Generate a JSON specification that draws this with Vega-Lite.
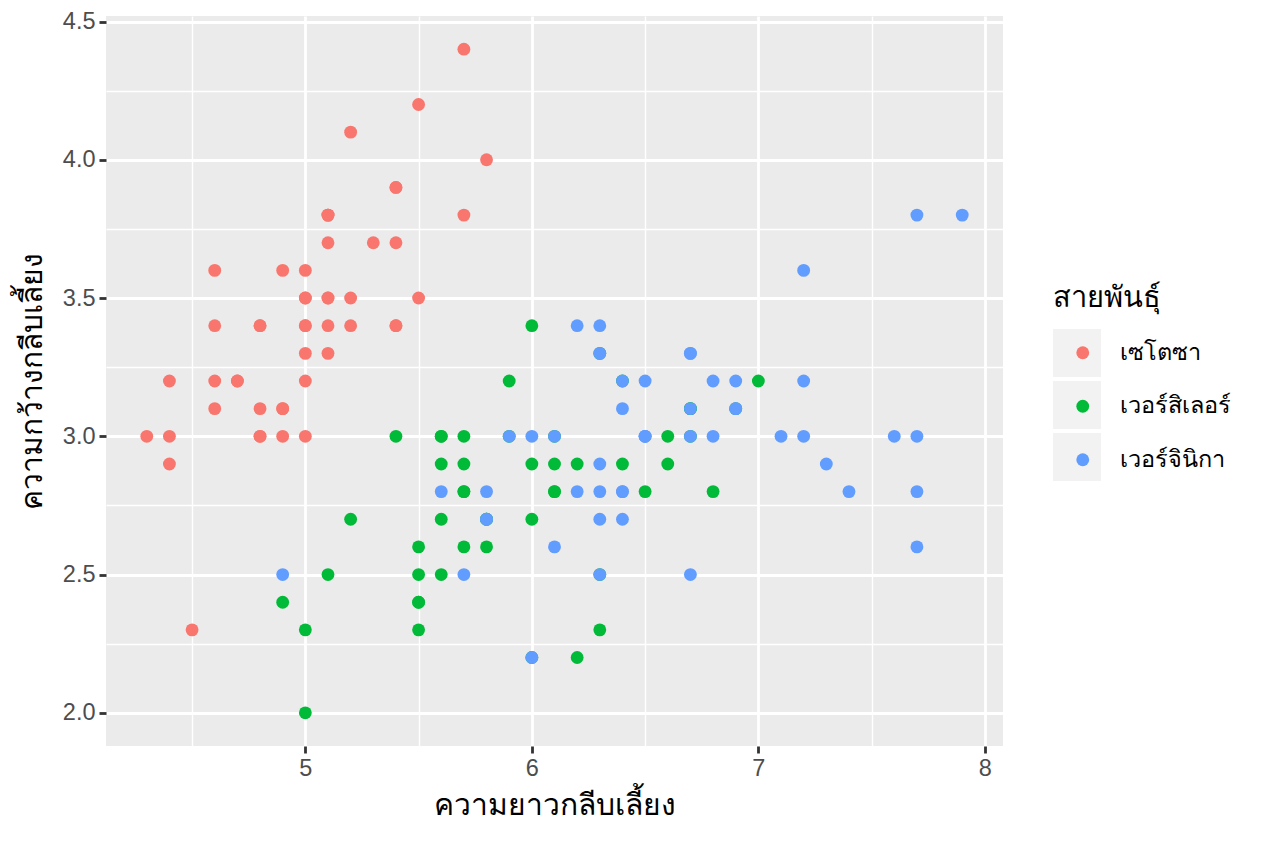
{
  "$schema": "https://vega.github.io/schema/vega-lite/v6.json",
  "description": "Iris sepal length vs sepal width by species, ggplot2 grey theme, Thai labels.",
  "background": "white",
  "autosize": {"type": "none"},
  "padding": {"left": 106, "top": 16, "right": 261, "bottom": 97},
  "width": 897,
  "height": 730,
  "data": {
    "values": [
      {"sepal_length": 5.1, "sepal_width": 3.5, "species": "เซโตซา"},
      {"sepal_length": 4.9, "sepal_width": 3.0, "species": "เซโตซา"},
      {"sepal_length": 4.7, "sepal_width": 3.2, "species": "เซโตซา"},
      {"sepal_length": 4.6, "sepal_width": 3.1, "species": "เซโตซา"},
      {"sepal_length": 5.0, "sepal_width": 3.6, "species": "เซโตซา"},
      {"sepal_length": 5.4, "sepal_width": 3.9, "species": "เซโตซา"},
      {"sepal_length": 4.6, "sepal_width": 3.4, "species": "เซโตซา"},
      {"sepal_length": 5.0, "sepal_width": 3.4, "species": "เซโตซา"},
      {"sepal_length": 4.4, "sepal_width": 2.9, "species": "เซโตซา"},
      {"sepal_length": 4.9, "sepal_width": 3.1, "species": "เซโตซา"},
      {"sepal_length": 5.4, "sepal_width": 3.7, "species": "เซโตซา"},
      {"sepal_length": 4.8, "sepal_width": 3.4, "species": "เซโตซา"},
      {"sepal_length": 4.8, "sepal_width": 3.0, "species": "เซโตซา"},
      {"sepal_length": 4.3, "sepal_width": 3.0, "species": "เซโตซา"},
      {"sepal_length": 5.8, "sepal_width": 4.0, "species": "เซโตซา"},
      {"sepal_length": 5.7, "sepal_width": 4.4, "species": "เซโตซา"},
      {"sepal_length": 5.4, "sepal_width": 3.9, "species": "เซโตซา"},
      {"sepal_length": 5.1, "sepal_width": 3.5, "species": "เซโตซา"},
      {"sepal_length": 5.7, "sepal_width": 3.8, "species": "เซโตซา"},
      {"sepal_length": 5.1, "sepal_width": 3.8, "species": "เซโตซา"},
      {"sepal_length": 5.4, "sepal_width": 3.4, "species": "เซโตซา"},
      {"sepal_length": 5.1, "sepal_width": 3.7, "species": "เซโตซา"},
      {"sepal_length": 4.6, "sepal_width": 3.6, "species": "เซโตซา"},
      {"sepal_length": 5.1, "sepal_width": 3.3, "species": "เซโตซา"},
      {"sepal_length": 4.8, "sepal_width": 3.4, "species": "เซโตซา"},
      {"sepal_length": 5.0, "sepal_width": 3.0, "species": "เซโตซา"},
      {"sepal_length": 5.0, "sepal_width": 3.4, "species": "เซโตซา"},
      {"sepal_length": 5.2, "sepal_width": 3.5, "species": "เซโตซา"},
      {"sepal_length": 5.2, "sepal_width": 3.4, "species": "เซโตซา"},
      {"sepal_length": 4.7, "sepal_width": 3.2, "species": "เซโตซา"},
      {"sepal_length": 4.8, "sepal_width": 3.1, "species": "เซโตซา"},
      {"sepal_length": 5.4, "sepal_width": 3.4, "species": "เซโตซา"},
      {"sepal_length": 5.2, "sepal_width": 4.1, "species": "เซโตซา"},
      {"sepal_length": 5.5, "sepal_width": 4.2, "species": "เซโตซา"},
      {"sepal_length": 4.9, "sepal_width": 3.1, "species": "เซโตซา"},
      {"sepal_length": 5.0, "sepal_width": 3.2, "species": "เซโตซา"},
      {"sepal_length": 5.5, "sepal_width": 3.5, "species": "เซโตซา"},
      {"sepal_length": 4.9, "sepal_width": 3.6, "species": "เซโตซา"},
      {"sepal_length": 4.4, "sepal_width": 3.0, "species": "เซโตซา"},
      {"sepal_length": 5.1, "sepal_width": 3.4, "species": "เซโตซา"},
      {"sepal_length": 5.0, "sepal_width": 3.5, "species": "เซโตซา"},
      {"sepal_length": 4.5, "sepal_width": 2.3, "species": "เซโตซา"},
      {"sepal_length": 4.4, "sepal_width": 3.2, "species": "เซโตซา"},
      {"sepal_length": 5.0, "sepal_width": 3.5, "species": "เซโตซา"},
      {"sepal_length": 5.1, "sepal_width": 3.8, "species": "เซโตซา"},
      {"sepal_length": 4.8, "sepal_width": 3.0, "species": "เซโตซา"},
      {"sepal_length": 5.1, "sepal_width": 3.8, "species": "เซโตซา"},
      {"sepal_length": 4.6, "sepal_width": 3.2, "species": "เซโตซา"},
      {"sepal_length": 5.3, "sepal_width": 3.7, "species": "เซโตซา"},
      {"sepal_length": 5.0, "sepal_width": 3.3, "species": "เซโตซา"},
      {"sepal_length": 7.0, "sepal_width": 3.2, "species": "เวอร์สิเลอร์"},
      {"sepal_length": 6.4, "sepal_width": 3.2, "species": "เวอร์สิเลอร์"},
      {"sepal_length": 6.9, "sepal_width": 3.1, "species": "เวอร์สิเลอร์"},
      {"sepal_length": 5.5, "sepal_width": 2.3, "species": "เวอร์สิเลอร์"},
      {"sepal_length": 6.5, "sepal_width": 2.8, "species": "เวอร์สิเลอร์"},
      {"sepal_length": 5.7, "sepal_width": 2.8, "species": "เวอร์สิเลอร์"},
      {"sepal_length": 6.3, "sepal_width": 3.3, "species": "เวอร์สิเลอร์"},
      {"sepal_length": 4.9, "sepal_width": 2.4, "species": "เวอร์สิเลอร์"},
      {"sepal_length": 6.6, "sepal_width": 2.9, "species": "เวอร์สิเลอร์"},
      {"sepal_length": 5.2, "sepal_width": 2.7, "species": "เวอร์สิเลอร์"},
      {"sepal_length": 5.0, "sepal_width": 2.0, "species": "เวอร์สิเลอร์"},
      {"sepal_length": 5.9, "sepal_width": 3.0, "species": "เวอร์สิเลอร์"},
      {"sepal_length": 6.0, "sepal_width": 2.2, "species": "เวอร์สิเลอร์"},
      {"sepal_length": 6.1, "sepal_width": 2.9, "species": "เวอร์สิเลอร์"},
      {"sepal_length": 5.6, "sepal_width": 2.9, "species": "เวอร์สิเลอร์"},
      {"sepal_length": 6.7, "sepal_width": 3.1, "species": "เวอร์สิเลอร์"},
      {"sepal_length": 5.6, "sepal_width": 3.0, "species": "เวอร์สิเลอร์"},
      {"sepal_length": 5.8, "sepal_width": 2.7, "species": "เวอร์สิเลอร์"},
      {"sepal_length": 6.2, "sepal_width": 2.2, "species": "เวอร์สิเลอร์"},
      {"sepal_length": 5.6, "sepal_width": 2.5, "species": "เวอร์สิเลอร์"},
      {"sepal_length": 5.9, "sepal_width": 3.2, "species": "เวอร์สิเลอร์"},
      {"sepal_length": 6.1, "sepal_width": 2.8, "species": "เวอร์สิเลอร์"},
      {"sepal_length": 6.3, "sepal_width": 2.5, "species": "เวอร์สิเลอร์"},
      {"sepal_length": 6.1, "sepal_width": 2.8, "species": "เวอร์สิเลอร์"},
      {"sepal_length": 6.4, "sepal_width": 2.9, "species": "เวอร์สิเลอร์"},
      {"sepal_length": 6.6, "sepal_width": 3.0, "species": "เวอร์สิเลอร์"},
      {"sepal_length": 6.8, "sepal_width": 2.8, "species": "เวอร์สิเลอร์"},
      {"sepal_length": 6.7, "sepal_width": 3.0, "species": "เวอร์สิเลอร์"},
      {"sepal_length": 6.0, "sepal_width": 2.9, "species": "เวอร์สิเลอร์"},
      {"sepal_length": 5.7, "sepal_width": 2.6, "species": "เวอร์สิเลอร์"},
      {"sepal_length": 5.5, "sepal_width": 2.4, "species": "เวอร์สิเลอร์"},
      {"sepal_length": 5.5, "sepal_width": 2.4, "species": "เวอร์สิเลอร์"},
      {"sepal_length": 5.8, "sepal_width": 2.7, "species": "เวอร์สิเลอร์"},
      {"sepal_length": 6.0, "sepal_width": 2.7, "species": "เวอร์สิเลอร์"},
      {"sepal_length": 5.4, "sepal_width": 3.0, "species": "เวอร์สิเลอร์"},
      {"sepal_length": 6.0, "sepal_width": 3.4, "species": "เวอร์สิเลอร์"},
      {"sepal_length": 6.7, "sepal_width": 3.1, "species": "เวอร์สิเลอร์"},
      {"sepal_length": 6.3, "sepal_width": 2.3, "species": "เวอร์สิเลอร์"},
      {"sepal_length": 5.6, "sepal_width": 3.0, "species": "เวอร์สิเลอร์"},
      {"sepal_length": 5.5, "sepal_width": 2.5, "species": "เวอร์สิเลอร์"},
      {"sepal_length": 5.5, "sepal_width": 2.6, "species": "เวอร์สิเลอร์"},
      {"sepal_length": 6.1, "sepal_width": 3.0, "species": "เวอร์สิเลอร์"},
      {"sepal_length": 5.8, "sepal_width": 2.6, "species": "เวอร์สิเลอร์"},
      {"sepal_length": 5.0, "sepal_width": 2.3, "species": "เวอร์สิเลอร์"},
      {"sepal_length": 5.6, "sepal_width": 2.7, "species": "เวอร์สิเลอร์"},
      {"sepal_length": 5.7, "sepal_width": 3.0, "species": "เวอร์สิเลอร์"},
      {"sepal_length": 5.7, "sepal_width": 2.9, "species": "เวอร์สิเลอร์"},
      {"sepal_length": 6.2, "sepal_width": 2.9, "species": "เวอร์สิเลอร์"},
      {"sepal_length": 5.1, "sepal_width": 2.5, "species": "เวอร์สิเลอร์"},
      {"sepal_length": 5.7, "sepal_width": 2.8, "species": "เวอร์สิเลอร์"},
      {"sepal_length": 6.3, "sepal_width": 3.3, "species": "เวอร์จินิกา"},
      {"sepal_length": 5.8, "sepal_width": 2.7, "species": "เวอร์จินิกา"},
      {"sepal_length": 7.1, "sepal_width": 3.0, "species": "เวอร์จินิกา"},
      {"sepal_length": 6.3, "sepal_width": 2.9, "species": "เวอร์จินิกา"},
      {"sepal_length": 6.5, "sepal_width": 3.0, "species": "เวอร์จินิกา"},
      {"sepal_length": 7.6, "sepal_width": 3.0, "species": "เวอร์จินิกา"},
      {"sepal_length": 4.9, "sepal_width": 2.5, "species": "เวอร์จินิกา"},
      {"sepal_length": 7.3, "sepal_width": 2.9, "species": "เวอร์จินิกา"},
      {"sepal_length": 6.7, "sepal_width": 2.5, "species": "เวอร์จินิกา"},
      {"sepal_length": 7.2, "sepal_width": 3.6, "species": "เวอร์จินิกา"},
      {"sepal_length": 6.5, "sepal_width": 3.2, "species": "เวอร์จินิกา"},
      {"sepal_length": 6.4, "sepal_width": 2.7, "species": "เวอร์จินิกา"},
      {"sepal_length": 6.8, "sepal_width": 3.0, "species": "เวอร์จินิกา"},
      {"sepal_length": 5.7, "sepal_width": 2.5, "species": "เวอร์จินิกา"},
      {"sepal_length": 5.8, "sepal_width": 2.8, "species": "เวอร์จินิกา"},
      {"sepal_length": 6.4, "sepal_width": 3.2, "species": "เวอร์จินิกา"},
      {"sepal_length": 6.5, "sepal_width": 3.0, "species": "เวอร์จินิกา"},
      {"sepal_length": 7.7, "sepal_width": 3.8, "species": "เวอร์จินิกา"},
      {"sepal_length": 7.7, "sepal_width": 2.6, "species": "เวอร์จินิกา"},
      {"sepal_length": 6.0, "sepal_width": 2.2, "species": "เวอร์จินิกา"},
      {"sepal_length": 6.9, "sepal_width": 3.2, "species": "เวอร์จินิกา"},
      {"sepal_length": 5.6, "sepal_width": 2.8, "species": "เวอร์จินิกา"},
      {"sepal_length": 7.7, "sepal_width": 2.8, "species": "เวอร์จินิกา"},
      {"sepal_length": 6.3, "sepal_width": 2.7, "species": "เวอร์จินิกา"},
      {"sepal_length": 6.7, "sepal_width": 3.3, "species": "เวอร์จินิกา"},
      {"sepal_length": 7.2, "sepal_width": 3.2, "species": "เวอร์จินิกา"},
      {"sepal_length": 6.2, "sepal_width": 2.8, "species": "เวอร์จินิกา"},
      {"sepal_length": 6.1, "sepal_width": 3.0, "species": "เวอร์จินิกา"},
      {"sepal_length": 6.4, "sepal_width": 2.8, "species": "เวอร์จินิกา"},
      {"sepal_length": 7.2, "sepal_width": 3.0, "species": "เวอร์จินิกา"},
      {"sepal_length": 7.4, "sepal_width": 2.8, "species": "เวอร์จินิกา"},
      {"sepal_length": 7.9, "sepal_width": 3.8, "species": "เวอร์จินิกา"},
      {"sepal_length": 6.4, "sepal_width": 2.8, "species": "เวอร์จินิกา"},
      {"sepal_length": 6.3, "sepal_width": 2.8, "species": "เวอร์จินิกา"},
      {"sepal_length": 6.1, "sepal_width": 2.6, "species": "เวอร์จินิกา"},
      {"sepal_length": 7.7, "sepal_width": 3.0, "species": "เวอร์จินิกา"},
      {"sepal_length": 6.3, "sepal_width": 3.4, "species": "เวอร์จินิกา"},
      {"sepal_length": 6.4, "sepal_width": 3.1, "species": "เวอร์จินิกา"},
      {"sepal_length": 6.0, "sepal_width": 3.0, "species": "เวอร์จินิกา"},
      {"sepal_length": 6.9, "sepal_width": 3.1, "species": "เวอร์จินิกา"},
      {"sepal_length": 6.7, "sepal_width": 3.1, "species": "เวอร์จินิกา"},
      {"sepal_length": 6.9, "sepal_width": 3.1, "species": "เวอร์จินิกา"},
      {"sepal_length": 5.8, "sepal_width": 2.7, "species": "เวอร์จินิกา"},
      {"sepal_length": 6.8, "sepal_width": 3.2, "species": "เวอร์จินิกา"},
      {"sepal_length": 6.7, "sepal_width": 3.3, "species": "เวอร์จินิกา"},
      {"sepal_length": 6.7, "sepal_width": 3.0, "species": "เวอร์จินิกา"},
      {"sepal_length": 6.3, "sepal_width": 2.5, "species": "เวอร์จินิกา"},
      {"sepal_length": 6.5, "sepal_width": 3.0, "species": "เวอร์จินิกา"},
      {"sepal_length": 6.2, "sepal_width": 3.4, "species": "เวอร์จินิกา"},
      {"sepal_length": 5.9, "sepal_width": 3.0, "species": "เวอร์จินิกา"}
    ]
  },
  "layer": [
    {
      "mark": {"type": "point", "filled": true, "shape": "square", "color": "#F2F2F2", "opacity": 0, "size": 10},
      "encoding": {
        "x": {
          "field": "sepal_length",
          "type": "quantitative",
          "scale": {"domain": [4.12, 8.08], "nice": false, "zero": false},
          "axis": {
            "orient": "top",
            "values": [4.5, 5.5, 6.5, 7.5],
            "grid": true,
            "gridColor": "white",
            "gridWidth": 1.4,
            "labels": false,
            "ticks": false,
            "domain": false,
            "title": null
          }
        },
        "y": {
          "field": "sepal_width",
          "type": "quantitative",
          "scale": {"domain": [1.88, 4.52], "nice": false, "zero": false},
          "axis": {
            "orient": "right",
            "values": [2.25, 2.75, 3.25, 3.75, 4.25],
            "grid": true,
            "gridColor": "white",
            "gridWidth": 1.4,
            "labels": false,
            "ticks": false,
            "domain": false,
            "title": null
          }
        },
        "shape": {
          "field": "species",
          "type": "nominal",
          "scale": {"range": ["square", "square", "square"]},
          "legend": {
            "orient": "none",
            "legendX": 947,
            "legendY": 268,
            "padding": 0,
            "title": "สายพันธุ์",
            "titleFontSize": 29,
            "titleFontWeight": "normal",
            "titleColor": "black",
            "titlePadding": 16,
            "symbolType": "square",
            "symbolSize": 2304,
            "symbolFillColor": "#F2F2F2",
            "symbolOpacity": 1,
            "symbolStrokeWidth": 0,
            "rowPadding": 4,
            "labelExpr": "''",
            "labelOffset": 0
          }
        }
      }
    },
    {
      "mark": {"type": "circle", "size": 165, "opacity": 1},
      "encoding": {
        "x": {
          "field": "sepal_length",
          "type": "quantitative",
          "title": "ความยาวกลีบเลี้ยง",
          "axis": {
            "orient": "bottom",
            "values": [5, 6, 7, 8],
            "format": "d",
            "grid": true,
            "gridColor": "white",
            "gridWidth": 2.8,
            "domain": false,
            "tickColor": "#333333",
            "tickWidth": 2.8,
            "tickSize": 7,
            "labelColor": "#4D4D4D",
            "labelFontSize": 23.5,
            "labelPadding": 3,
            "titleFontSize": 30,
            "titleFontWeight": "normal",
            "titleColor": "black",
            "titlePadding": 11
          }
        },
        "y": {
          "field": "sepal_width",
          "type": "quantitative",
          "title": "ความกว้างกลีบเลี้ยง",
          "axis": {
            "orient": "left",
            "values": [2, 2.5, 3, 3.5, 4, 4.5],
            "format": ".1f",
            "grid": true,
            "gridColor": "white",
            "gridWidth": 2.8,
            "domain": false,
            "tickColor": "#333333",
            "tickWidth": 2.8,
            "tickSize": 7,
            "labelColor": "#4D4D4D",
            "labelFontSize": 23.5,
            "labelPadding": 4,
            "titleFontSize": 30,
            "titleFontWeight": "normal",
            "titleColor": "black",
            "titlePadding": 15
          }
        },
        "color": {
          "field": "species",
          "type": "nominal",
          "scale": {
            "domain": ["เซโตซา", "เวอร์สิเลอร์", "เวอร์จินิกา"],
            "range": ["#F8766D", "#00BA38", "#619CFF"]
          },
          "legend": {
            "orient": "none",
            "legendX": 965,
            "legendY": 325,
            "padding": 0,
            "title": null,
            "symbolType": "circle",
            "symbolSize": 165,
            "symbolOpacity": 1,
            "symbolStrokeWidth": 0,
            "labelFontSize": 23.5,
            "labelColor": "black",
            "labelOffset": 25,
            "rowPadding": 28.5
          }
        }
      }
    }
  ],
  "resolve": {"axis": {"x": "independent", "y": "independent"}},
  "config": {
    "font": "Liberation Sans",
    "view": {"fill": "#EBEBEB", "stroke": null},
    "axis": {"labelFont": "Liberation Sans", "titleFont": "Liberation Sans"},
    "legend": {"labelFont": "Liberation Sans", "titleFont": "Liberation Sans"}
  }
}
